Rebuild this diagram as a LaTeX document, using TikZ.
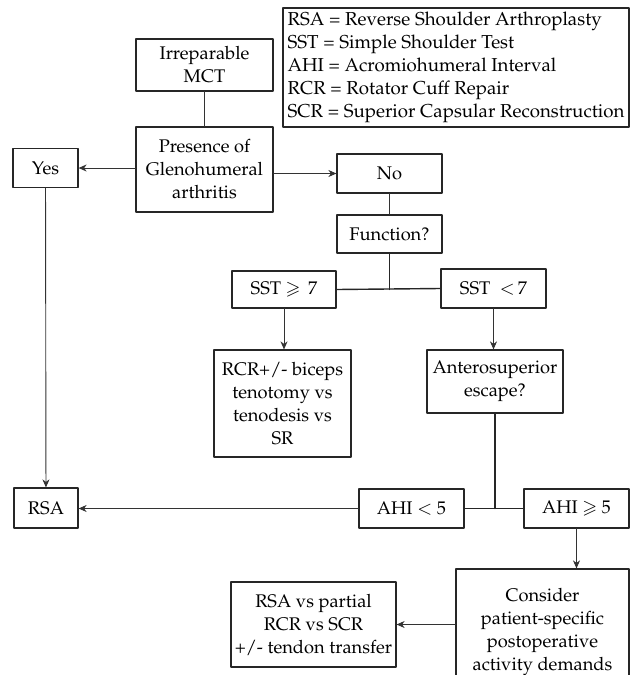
\documentclass[tikz,border=0pt]{standalone}
\usepackage[T1]{fontenc}
\usepackage{mathpazo}
\usepackage{amssymb}
\usetikzlibrary{arrows.meta}

\begin{document}
\begin{tikzpicture}[line cap=round,line join=round,x=1pt,y=-1pt,
  >={Stealth[length=8pt,width=7pt,inset=2.5pt]},
  box/.style={draw=black!85,line width=1.2pt,inner sep=0pt,align=center,
    font=\fontsize{18.3}{23}\selectfont},
  link/.style={draw=black!80,line width=0.9pt},
  fork/.style={draw=black!85,line width=1.4pt}]
\clip (0,0) rectangle (631,675);
% boxes
\node[box,minimum width=346,minimum height=119,align=left,inner xsep=1pt,
  font=\fontsize{18.7}{23}\selectfont] (legend) at (456,67.5)
  {RSA = Reverse Shoulder Arthroplasty\\SST = Simple Shoulder Test\\AHI = Acromiohumeral Interval\\RCR = Rotator Cuff Repair\\SCR = Superior Capsular Reconstruction};
\node[box,minimum width=137,minimum height=52] (mct) at (204.5,65) {Irreparable\\MCT};
\node[box,minimum width=137,minimum height=85] (glen) at (204.5,169.5) {Presence of\\Glenohumeral\\arthritis};
\node[box,minimum width=65,minimum height=39] (yes) at (45.5,168) {Yes};
\node[box,minimum width=105,minimum height=39] (no) at (389.5,173.5) {No};
\node[box,minimum width=105,minimum height=38] (func) at (389.5,234) {Function?};
\node[box,minimum width=104,minimum height=37] (sstge) at (284,289.5) {SST $\geqslant$\ \,7};
\node[box,minimum width=105,minimum height=39] (sstlt) at (493.5,288.5) {SST\ \ $<$\,7};
\node[box,minimum width=137,minimum height=107] (rcr) at (282.5,403.5) {RCR+/- biceps\\tenotomy vs\\tenodesis vs\\SR};
\node[box,minimum width=136,minimum height=63] (escape) at (495,381.5) {Anterosuperior\\escape?};
\node[box,minimum width=64,minimum height=40] (rsa) at (46,508) {RSA};
\node[box,minimum width=105,minimum height=39] (ahilt) at (411.5,508.5) {AHI $<$ 5};
\node[box,minimum width=105,minimum height=39] (ahige) at (576.5,508.5) {AHI $\geqslant$ 5};
\node[box,minimum width=173,minimum height=126] (demands) at (542.5,632) {Consider\\patient-specific\\postoperative\\activity demands};
\node[box,minimum width=165,minimum height=85] (options) at (313.5,624.5) {RSA vs partial\\RCR vs SCR\\+/- tendon transfer};
% connectors
\draw[link] (mct) -- (glen);
\draw[link,->] (glen.west |- yes) -- (yes.east);
\draw[link,->] (glen.east |- no) -- (no.west);
\draw[link] (no) -- (func);
\draw[fork] (func.south) -- (func.south |- sstge);
\draw[fork] (sstge.east) -- (sstlt.west);
\draw[link,->] (sstge.south) -- (sstge.south |- rcr.north);
\draw[link,->] (sstlt.south) -- (sstlt.south |- escape.north);
\draw[link,->] (yes) -- (rsa);
\draw[fork] (escape.south) -- (escape.south |- ahilt);
\draw[fork] (ahilt.east) -- (ahige.west);
\draw[link,->] (ahilt.west) -- (rsa.east |- ahilt.west);
\draw[link,->] (ahige.south) -- (ahige.south |- demands.north);
\draw[link,->] (demands.west |- options) -- (options.east);
\end{tikzpicture}
\end{document}
